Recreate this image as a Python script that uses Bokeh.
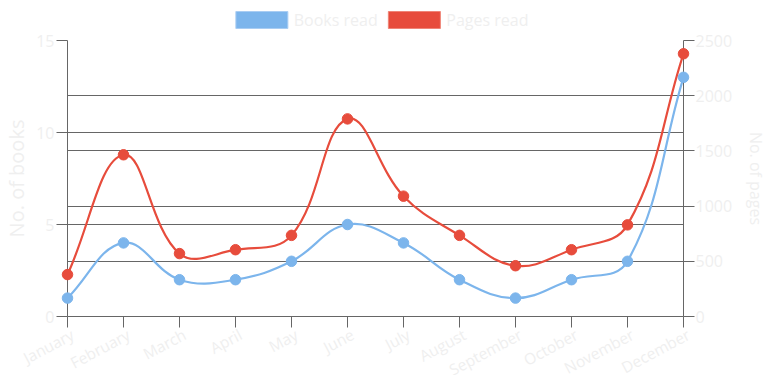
import math
from bokeh.plotting import figure
from bokeh.models import ColumnDataSource, Range1d, LinearAxis, FixedTicker, Grid
from bokeh.core.properties import value
from bokeh.embed import file_html
from bokeh.resources import INLINE

# ---- data ----
months = ["January", "February", "March", "April", "May", "June", "July",
          "August", "September", "October", "November", "December"]
books_read = [1, 4, 2, 2, 3, 5, 4, 2, 1, 2, 3, 13]
pages_read = [380, 1465, 570, 605, 735, 1790, 1090, 735, 460, 605, 830, 2380]
books_ticks = [0, 5, 10, 15]
pages_ticks = [0, 500, 1000, 1500, 2000, 2500]
series_names = ["Books read", "Pages read"]
books_max = 15
pages_max = 2500

# ---- style ----
FONT = "Open Sans"
TXT = "#efefef"
GRID = "#666666"
BLUE = "#7cb5ec"
RED = "#e74c3c"
BORDERS = ["#a9cdf3", "#ef8577"]
FRAME_L, FRAME_T = 67, 40
FRAME_W, FRAME_H = 618, 276
TENSION = 0.4
# legend layout in screen pixels (box centres, text starts, vertical centre)
LEG_BOX_CX = [262, 415]
LEG_TXT_X = [294, 447]
LEG_CY = 19.5

xs = list(range(len(months)))
sx = FRAME_W / (len(months) - 1)
sy_books = FRAME_H / books_max


def spline_source(xv, yv, sx, sy, ymin, ymax, t=TENSION):
    """Chart.js style cubic bezier control points (distance weights in pixel space)."""
    n = len(xv)
    prev_cp, next_cp = [], []
    for i in range(n):
        a = max(i - 1, 0)
        b = min(i + 1, n - 1)
        d01 = math.hypot((xv[i] - xv[a]) * sx, (yv[i] - yv[a]) * sy)
        d12 = math.hypot((xv[b] - xv[i]) * sx, (yv[b] - yv[i]) * sy)
        tot = d01 + d12
        s01 = d01 / tot if tot else 0
        s12 = d12 / tot if tot else 0
        fa, fb = t * s01, t * s12
        px = xv[i] - fa * (xv[b] - xv[a])
        py = yv[i] - fa * (yv[b] - yv[a])
        nx = xv[i] + fb * (xv[b] - xv[a])
        ny = yv[i] + fb * (yv[b] - yv[a])
        py = min(max(py, ymin), ymax)
        ny = min(max(ny, ymin), ymax)
        prev_cp.append((px, py))
        next_cp.append((nx, ny))
    d = dict(x0=[], y0=[], x1=[], y1=[], cx0=[], cy0=[], cx1=[], cy1=[])
    for i in range(n - 1):
        d["x0"].append(xv[i]); d["y0"].append(yv[i])
        d["x1"].append(xv[i + 1]); d["y1"].append(yv[i + 1])
        d["cx0"].append(next_cp[i][0]); d["cy0"].append(next_cp[i][1])
        d["cx1"].append(prev_cp[i + 1][0]); d["cy1"].append(prev_cp[i + 1][1])
    return ColumnDataSource(d)


p = figure(width=770, height=375, output_backend="svg", toolbar_location=None,
           x_range=Range1d(0, len(months) - 1), y_range=Range1d(0, books_max),
           min_border_left=FRAME_L, min_border_right=770 - FRAME_L - FRAME_W,
           min_border_top=FRAME_T, min_border_bottom=375 - FRAME_T - FRAME_H)
p.extra_y_ranges = {"pages": Range1d(0, pages_max)}
p.outline_line_color = None
p.background_fill_color = "white"
p.border_fill_color = "white"

# x axis (ticks only; labels drawn as rotated text below)
xa = p.xaxis[0]
xa.ticker = FixedTicker(ticks=xs)
xa.axis_line_color = GRID
xa.major_tick_line_color = GRID
xa.major_tick_out = 11
xa.major_tick_in = 0
xa.minor_tick_line_color = None
xa.major_label_overrides = {i: "" for i in xs}
xa.major_label_text_font_size = "10px"
xa.major_label_standoff = 0
p.xgrid.visible = False

p.text(x=xs, y=[p.y_range.start] * len(xs), text=months,
       angle=math.radians(28), text_align="right", text_baseline="top",
       x_offset=0, y_offset=7, text_color=TXT, text_font=value(FONT),
       text_font_size="15.5px", level="overlay")

# left axis
ya = p.yaxis[0]
ya.ticker = FixedTicker(ticks=books_ticks)
ya.axis_line_color = GRID
ya.major_tick_line_color = GRID
ya.major_tick_out = 11
ya.major_tick_in = 0
ya.minor_tick_line_color = None
ya.major_label_standoff = 2
ya.major_label_text_color = TXT
ya.major_label_text_font = FONT
ya.major_label_text_font_size = "16px"
ya.axis_label = "No. of books"
ya.axis_label_text_color = TXT
ya.axis_label_text_font = FONT
ya.axis_label_text_font_size = "20px"
ya.axis_label_text_font_style = "normal"
ya.axis_label_standoff = 3
p.ygrid.ticker = FixedTicker(ticks=books_ticks)
p.ygrid.grid_line_color = GRID

# right axis
ra = LinearAxis(y_range_name="pages", ticker=FixedTicker(ticks=pages_ticks))
ra.axis_line_color = GRID
ra.major_tick_line_color = GRID
ra.major_tick_out = 11
ra.major_tick_in = 0
ra.minor_tick_line_color = None
ra.major_label_standoff = 1
ra.major_label_text_color = TXT
ra.major_label_text_font = FONT
ra.major_label_text_font_size = "16px"
ra.axis_label = "No. of pages"
ra.axis_label_text_color = TXT
ra.axis_label_text_font = FONT
ra.axis_label_text_font_size = "16px"
ra.axis_label_text_font_style = "normal"
ra.axis_label_standoff = 10
p.add_layout(ra, "right")
p.add_layout(Grid(dimension=1, ticker=FixedTicker(ticks=pages_ticks),
                  y_range_name="pages", grid_line_color=GRID))

# series
src_p = spline_source(xs, pages_read, sx, FRAME_H / pages_max, 0, pages_max)
src_b = spline_source(xs, books_read, sx, sy_books, 0, books_max)
p.bezier(x0="x0", y0="y0", x1="x1", y1="y1", cx0="cx0", cy0="cy0", cx1="cx1",
         cy1="cy1", source=src_p, line_color=RED, line_width=2.2, y_range_name="pages")
p.scatter(xs, pages_read, size=10.5, color=RED, y_range_name="pages", level="overlay")
p.bezier(x0="x0", y0="y0", x1="x1", y1="y1", cx0="cx0", cy0="cy0", cx1="cx1",
         cy1="cy1", source=src_b, line_color=BLUE, line_width=2.2)
p.scatter(xs, books_read, size=10.5, color=BLUE, level="overlay")


# legend drawn above the frame (screen pixels -> data coordinates)
def to_dx(px):
    return (px - FRAME_L) / sx


def to_dy(py):
    return books_max + (FRAME_T - py) / sy_books


leg_y = to_dy(LEG_CY)
p.rect(x=[to_dx(v) for v in LEG_BOX_CX], y=[leg_y] * 2, width=52, height=17,
       width_units="screen", height_units="screen", fill_color=[BLUE, RED],
       line_color=BORDERS, line_width=1, level="overlay")
p.text(x=[to_dx(v) for v in LEG_TXT_X], y=[leg_y] * 2, text=series_names,
       text_align="left", text_baseline="middle", text_color=TXT,
       text_font=value(FONT), text_font_size="16px", level="overlay")

open("out.html", "w").write(file_html(p, INLINE))
